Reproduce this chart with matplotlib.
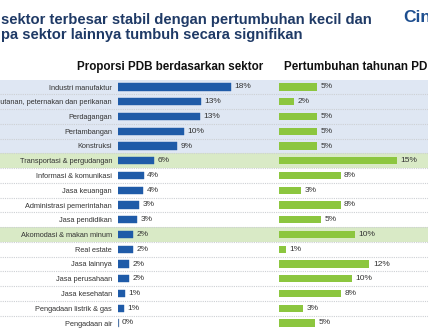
import matplotlib
matplotlib.use("Agg")
import matplotlib.pyplot as plt

plt.rcParams['font.family'] = ['Liberation Sans', 'DejaVu Sans']

sectors = [
    "Industri manufaktur",
    "Pertanian, kehutanan, peternakan dan perikanan",
    "Perdagangan",
    "Pertambangan",
    "Konstruksi",
    "Transportasi & pergudangan",
    "Informasi & komunikasi",
    "Jasa keuangan",
    "Administrasi pemerintahan",
    "Jasa pendidikan",
    "Akomodasi & makan minum",
    "Real estate",
    "Jasa lainnya",
    "Jasa perusahaan",
    "Jasa kesehatan",
    "Pengadaan listrik & gas",
    "Pengadaan air",
]
share_values = [18.0, 13.2, 13.0, 10.5, 9.4, 5.7, 4.1, 4.0, 3.3, 3.0, 2.4, 2.4, 1.8, 1.8, 1.1, 1.0, 0.08]
share_labels = ["18%", "13%", "13%", "10%", "9%", "6%", "4%", "4%", "3%", "3%", "2%", "2%", "2%", "2%", "1%", "1%", "0%"]
growth_values = [4.9, 1.9, 4.9, 4.9, 4.9, 15.1, 7.9, 2.8, 7.9, 5.4, 9.7, 0.9, 11.6, 9.3, 8.0, 3.1, 4.6]
growth_labels = ["5%", "2%", "5%", "5%", "5%", "15%", "8%", "3%", "8%", "5%", "10%", "1%", "12%", "10%", "8%", "3%", "5%"]
blue_rows = [0, 1, 2, 3, 4]
green_rows = [5, 10]

title_lines = ["sektor terbesar stabil dengan pertumbuhan kecil dan",
               "pa sektor lainnya tumbuh secara signifikan"]
header_left = "Proporsi PDB berdasarkan sektor"
header_right = "Pertumbuhan tahunan PDB"
logo = "Cin"

W, H = 428, 336
fig = plt.figure(figsize=(W / 100, H / 100), dpi=100)
fig.patch.set_facecolor("white")

n = len(sectors)
row_h = 14.75
top_px = 87 - row_h / 2
bot_px = 87 + row_h * (n - 1) + row_h / 2
bottom = 1 - bot_px / H
height = (bot_px - top_px) / H
ylim = (n - 0.5, -0.5)

BLUE_BAND = "#dfe7f3"
GREEN_BAND = "#d9eac6"
BLUE_BAR = "#1f5ba8"
GREEN_BAR = "#8cc63f"
NAVY = "#1f3a66"

# background bands and separators
ax_bg = fig.add_axes([0, bottom, 1, height])
ax_bg.set_xlim(0, 1)
ax_bg.set_ylim(*ylim)
ax_bg.axis("off")
for r in blue_rows:
    ax_bg.axhspan(r - 0.5, r + 0.5, color=BLUE_BAND, lw=0, zorder=0)
for r in green_rows:
    ax_bg.axhspan(r - 0.5, r + 0.5, color=GREEN_BAND, lw=0, zorder=0)
for i in range(n - 1):
    ax_bg.axhline(i + 0.5, color="#cdd0d4", lw=0.8, ls=(0, (1, 1)), zorder=1)

# left panel
px_per_pct_left = 6.28
x0_left, x1_left = 118, 270
ax1 = fig.add_axes([x0_left / W, bottom, (x1_left - x0_left) / W, height])
ax1.set_xlim(0, (x1_left - x0_left) / px_per_pct_left)
ax1.set_ylim(*ylim)
ax1.patch.set_alpha(0)
ypos = list(range(n))
ax1.barh(ypos, share_values, height=0.5, color=BLUE_BAR,
         edgecolor=[BLUE_BAR] * (n - 1) + ["#9aa4b0"], lw=0.3)
for y, v, lab in zip(ypos, share_values, share_labels):
    ax1.annotate(lab, (v, y), xytext=(2.5, 0), textcoords="offset points",
                 va="center", ha="left", fontsize=6.0, color="#333333")
ax1.set_yticks(ypos)
ax1.set_yticklabels(sectors, fontsize=5.3, color="#333333")
ax1.tick_params(axis="y", length=0, pad=4.3)
ax1.set_xticks([])
for s in ax1.spines.values():
    s.set_visible(False)

# right panel
px_per_pct_right = 7.8
x0_right, x1_right = 279, 428
ax2 = fig.add_axes([x0_right / W, bottom, (x1_right - x0_right) / W, height])
ax2.set_xlim(0, (x1_right - x0_right) / px_per_pct_right)
ax2.set_ylim(*ylim)
ax2.patch.set_alpha(0)
ax2.barh(ypos, growth_values, height=0.5, color=GREEN_BAR, lw=0)
for y, v, lab in zip(ypos, growth_values, growth_labels):
    ax2.annotate(lab, (v, y), xytext=(2.5, 0), textcoords="offset points",
                 va="center", ha="left", fontsize=6.0, color="#333333")
ax2.set_yticks([])
ax2.set_xticks([])
for s in ax2.spines.values():
    s.set_visible(False)

# headers
fig.text(170 / W, 1 - 67 / H, header_left, ha="center", va="center",
         fontsize=8.4, fontweight="bold", color="#111111")
fig.text(284 / W, 1 - 67 / H, header_right, ha="left", va="center",
         fontsize=8.4, fontweight="bold", color="#111111")

# title
fig.text(1 / W, 1 - 20 / H, title_lines[0], ha="left", va="center",
         fontsize=10.6, fontweight="bold", color=NAVY)
fig.text(1 / W, 1 - 35 / H, title_lines[1], ha="left", va="center",
         fontsize=10.6, fontweight="bold", color=NAVY)
fig.text(403 / W, 1 - 17 / H, logo, ha="left", va="center",
         fontsize=12.5, fontweight="bold", color="#1d4e8f")

fig.savefig("out.png", dpi=100, facecolor="white")
